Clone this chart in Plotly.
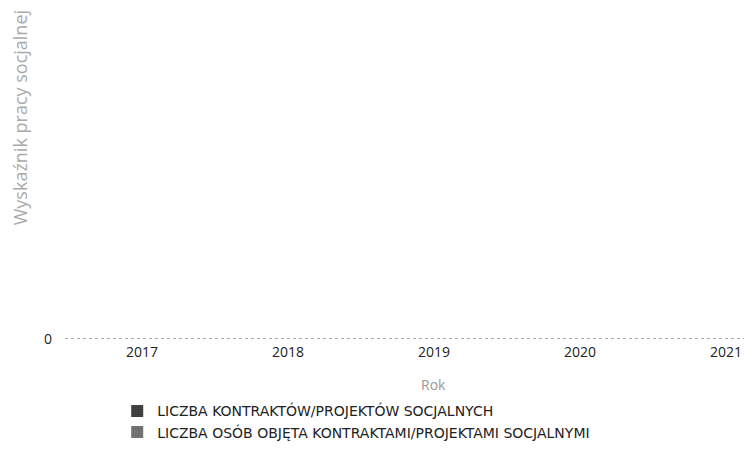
import plotly.graph_objects as go

years = ["2017", "2018", "2019", "2020", "2021"]
contracts = [0, 0, 0, 0, 0]
persons = [0, 0, 0, 0, 0]
series_names = [
    "LICZBA KONTRAKTÓW/PROJEKTÓW SOCJALNYCH",
    "LICZBA OSÓB OBJĘTA KONTRAKTAMI/PROJEKTAMI SOCJALNYMI",
]
y_title = "Wyskaźnik pracy socjalnej"
x_title = "Rok"

fig = go.Figure()
fig.add_trace(go.Bar(x=years, y=contracts, name=series_names[0],
                     marker=dict(color="#444444", line=dict(width=0),
                                 pattern=dict(shape=".", fgcolor="#111111", size=3))))
fig.add_trace(go.Bar(x=years, y=persons, name=series_names[1],
                     marker=dict(color="#777777", line=dict(width=0),
                                 pattern=dict(shape=".", fgcolor="#333333", size=3))))

fig.update_layout(
    width=752, height=457,
    margin=dict(l=57, r=7, t=5, b=123),
    paper_bgcolor="white", plot_bgcolor="white",
    font=dict(family="Open Sans", color="#222222"),
    showlegend=True,
    legend=dict(orientation="v", x=0.0759, xanchor="left", y=-0.162, yanchor="top",
                font=dict(family="DejaVu Sans", size=14, color="#222222"),
                tracegroupgap=0, itemwidth=30, bgcolor="rgba(0,0,0,0)"),
    xaxis=dict(type="category", range=[-0.527, 4.185], showgrid=False, showline=False,
               ticks="", automargin=False, tickfont=dict(size=14, color="#222222")),
    yaxis=dict(range=[-0.01, 1], tickvals=[0], ticktext=["0"], showgrid=True,
               gridcolor="#aaaaaa", griddash="dot", gridwidth=1, zeroline=False,
               showline=False, ticks="", ticklabelstandoff=12, automargin=False,
               tickfont=dict(size=14, color="#222222")),
    annotations=[
        dict(text=y_title, textangle=-90, xref="paper", yref="paper",
             x=-0.0654, y=0.68, xanchor="center", yanchor="middle", showarrow=False,
             font=dict(size=18, color="#aaaaaa")),
        dict(text=x_title, xref="paper", yref="paper",
             x=0.535, y=-0.13, xanchor="center", yanchor="middle", showarrow=False,
             font=dict(size=14, color="#999999")),
    ],
)

fig.write_html("out.html")
